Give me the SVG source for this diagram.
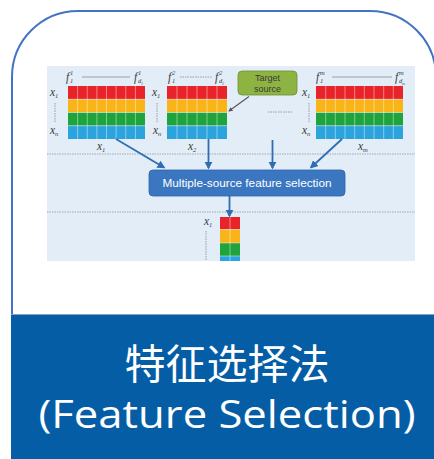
<svg xmlns="http://www.w3.org/2000/svg" width="434" height="459" viewBox="0 0 434 459">
<defs>
<style>
.lab{font-family:"Liberation Serif",serif;font-style:italic;fill:#3a3a3a;font-size:11.5px}
.sm{font-family:"Liberation Serif",serif;font-style:italic;fill:#3a3a3a;font-size:6.5px}
.sep{stroke:#ffffff;stroke-opacity:0.55;stroke-width:0.8}
.dash{stroke:#8a8a8a;stroke-width:0.8;stroke-dasharray:1.5 1}
.guide{stroke:#9aa3ad;stroke-width:0.9;stroke-dasharray:1.5 1}
.arr{stroke:#2f6db2;stroke-width:1.8;fill:none}
.title{font-family:"Open Sans","Noto Sans CJK SC",sans-serif;fill:#ffffff;text-anchor:middle}
</style>
<marker id="ah" viewBox="0 0 10 10" refX="8" refY="5" markerWidth="4.5" markerHeight="4.5" orient="auto">
<path d="M0,0 L10,5 L0,10 z" fill="#2f6db2"/>
</marker>
<marker id="ahd" viewBox="0 0 10 10" refX="8" refY="5" markerWidth="4" markerHeight="4" orient="auto">
<path d="M0,0 L10,5 L0,10 z" fill="#555"/>
</marker>
</defs>

<g id="card">
<path d="M12 459 V77 A66 66 0 0 1 78 11 H370 A66 66 0 0 1 436 77 V459" fill="#ffffff" stroke="#4472c4" stroke-width="2"/>
</g>

<g id="figure">
<rect x="47" y="66" width="368" height="195" fill="#e2edf7"/>
<line x1="47" y1="154" x2="415" y2="154" class="guide"/>
<line x1="47" y1="212" x2="415" y2="212" class="guide"/>
</g>

<g id="matrix1">
<rect x="68" y="86" width="77" height="13.25" fill="#e8232a"/>
<rect x="68" y="99.25" width="77" height="13.25" fill="#f8b418"/>
<rect x="68" y="112.5" width="77" height="13.25" fill="#1ea33d"/>
<rect x="68" y="125.75" width="77" height="13.25" fill="#2ba4dd"/>
<path class="sep" d="M77.6 86V139M87.25 86V139M96.9 86V139M106.5 86V139M116.1 86V139M125.75 86V139M135.4 86V139M68 99.25H145M68 112.5H145M68 125.75H145"/>
<text class="lab" x="66" y="81">f</text><text class="sm" x="70" y="75">1</text><text class="sm" x="70" y="83">1</text>
<line x1="82" y1="77" x2="130" y2="77" stroke="#8a8a8a" stroke-width="0.8"/>
<text class="lab" x="134" y="81">f</text><text class="sm" x="138" y="75">1</text><text class="sm" x="138" y="83">d</text><text class="sm" x="141" y="85" style="font-size:4px">1</text>
<text class="lab" x="50" y="96">x</text><text class="sm" x="55" y="98">1</text>
<line x1="55" y1="103" x2="55" y2="123" class="dash"/>
<text class="lab" x="50" y="134">x</text><text class="sm" x="55" y="136">n</text>
<text class="lab" x="97" y="150">x</text><text class="sm" x="102" y="152">1</text>
</g>

<g id="matrix2">
<rect x="167" y="86" width="60" height="13.25" fill="#e8232a"/>
<rect x="167" y="99.25" width="60" height="13.25" fill="#f8b418"/>
<rect x="167" y="112.5" width="60" height="13.25" fill="#1ea33d"/>
<rect x="167" y="125.75" width="60" height="13.25" fill="#2ba4dd"/>
<path class="sep" d="M177 86V139M187 86V139M197 86V139M207 86V139M217 86V139M167 99.25H227M167 112.5H227M167 125.75H227"/>
<text class="lab" x="168" y="81">f</text><text class="sm" x="172" y="75">2</text><text class="sm" x="172" y="83">1</text>
<line x1="180" y1="77" x2="212" y2="77" class="dash"/>
<text class="lab" x="215" y="81">f</text><text class="sm" x="219" y="75">2</text><text class="sm" x="219" y="83">d</text><text class="sm" x="222" y="85" style="font-size:4px">2</text>
<text class="lab" x="152" y="96">x</text><text class="sm" x="157" y="98">1</text>
<line x1="157" y1="103" x2="157" y2="123" class="dash"/>
<text class="lab" x="153" y="134">x</text><text class="sm" x="158" y="136">n</text>
<text class="lab" x="188" y="150">x</text><text class="sm" x="193" y="152">2</text>
</g>

<g id="target-source">
<rect x="238" y="71" width="59" height="24" rx="4" fill="#8db443" stroke="#6f8f32" stroke-width="0.8"/>
<text x="267.5" y="81" font-family="Liberation Sans, sans-serif" font-size="9" fill="#3a3a3a" text-anchor="middle">Target</text>
<text x="267.5" y="92" font-family="Liberation Sans, sans-serif" font-size="9" fill="#3a3a3a" text-anchor="middle">source</text>
</g>

<g id="ellipsis">
<line x1="268" y1="112" x2="292" y2="112" class="dash"/>
</g>

<g id="matrixm">
<rect x="316" y="86" width="87" height="13.25" fill="#e8232a"/>
<rect x="316" y="99.25" width="87" height="13.25" fill="#f8b418"/>
<rect x="316" y="112.5" width="87" height="13.25" fill="#1ea33d"/>
<rect x="316" y="125.75" width="87" height="13.25" fill="#2ba4dd"/>
<path class="sep" d="M325.7 86V139M335.3 86V139M345 86V139M354.7 86V139M364.3 86V139M374 86V139M383.7 86V139M393.3 86V139M316 99.25H403M316 112.5H403M316 125.75H403"/>
<text class="lab" x="316" y="81">f</text><text class="sm" x="320" y="75">m</text><text class="sm" x="320" y="83">1</text>
<line x1="332" y1="77" x2="392" y2="77" stroke="#8a8a8a" stroke-width="0.8"/>
<text class="lab" x="395" y="81">f</text><text class="sm" x="399" y="75">m</text><text class="sm" x="399" y="83">d</text><text class="sm" x="402" y="85" style="font-size:4px">m</text>
<text class="lab" x="302" y="96">x</text><text class="sm" x="307" y="98">1</text>
<line x1="309" y1="103" x2="309" y2="123" class="dash"/>
<text class="lab" x="302" y="134">x</text><text class="sm" x="307" y="136">n</text>
<text class="lab" x="358" y="150">x</text><text class="sm" x="363" y="152">m</text>
</g>

<g id="selection-box">
<rect x="149" y="170" width="196" height="26" rx="4" fill="#3b77c0" stroke="#2f64a6" stroke-width="0.8"/>
<text x="247" y="187" font-family="Liberation Sans, sans-serif" font-size="10" fill="#ffffff" text-anchor="middle" textLength="169" lengthAdjust="spacingAndGlyphs">Multiple-source feature selection</text>
</g>

<g id="output">
<rect x="220" y="217" width="20" height="12.5" fill="#e8232a"/>
<rect x="220" y="229.5" width="20" height="13.5" fill="#f8b418"/>
<rect x="220" y="243" width="20" height="13" fill="#1ea33d"/>
<rect x="220" y="256" width="20" height="5" fill="#2ba4dd"/>
<path class="sep" d="M230 217V261M220 229.5H240M220 243H240M220 256H240"/>
<text class="lab" x="204" y="225">x</text><text class="sm" x="209" y="227">1</text>
<line x1="206" y1="231" x2="206" y2="261" class="dash"/>
</g>

<g id="connectors">
<line x1="116" y1="139" x2="164" y2="167.5" class="arr" marker-end="url(#ah)"/>
<line x1="208.5" y1="139" x2="208.5" y2="168" class="arr" marker-end="url(#ah)"/>
<line x1="272.5" y1="140" x2="272.5" y2="168" class="arr" marker-end="url(#ah)"/>
<line x1="342" y1="139" x2="311" y2="167.5" class="arr" marker-end="url(#ah)"/>
<line x1="229.5" y1="196" x2="229.5" y2="216" class="arr" marker-end="url(#ah)"/>
<line x1="249" y1="96.5" x2="229" y2="111" stroke="#555" stroke-width="1.1" marker-end="url(#ahd)"/>
</g>

<g id="label-bar">
<rect x="11" y="314" width="425" height="145" fill="#055ea5"/>
<line x1="11" y1="314.5" x2="436" y2="314.5" stroke="#8c9cc2" stroke-width="1"/>
<text class="title" x="227" y="379" font-size="41">特征选择法</text>
<text class="title" x="227" y="428" font-size="39" textLength="377" lengthAdjust="spacingAndGlyphs">(Feature Selection)</text>
</g>
</svg>
